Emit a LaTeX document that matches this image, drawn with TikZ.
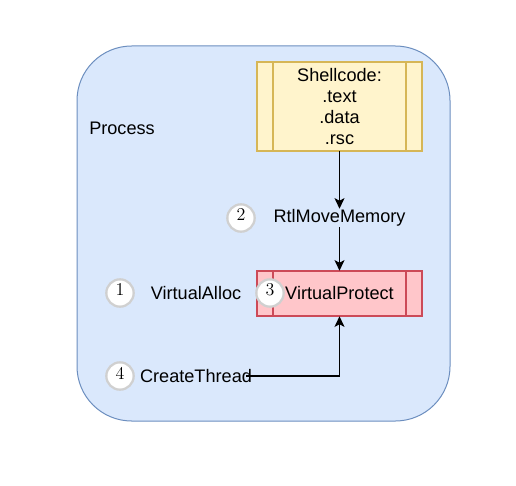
\documentclass[tikz,border=0pt]{standalone}
\usepackage{fontspec}
\setsansfont{Liberation Sans}
\usetikzlibrary{arrows.meta}
\definecolor{procfill}{HTML}{DAE8FC}
\definecolor{procdraw}{HTML}{6C8EBF}
\definecolor{yfill}{HTML}{FFF4CC}
\definecolor{ydraw}{HTML}{D6B656}
\definecolor{rfill}{HTML}{FFC6CA}
\definecolor{rdraw}{HTML}{CC4A58}
\definecolor{cdraw}{HTML}{D0D0D0}
\tikzset{
  lbl/.style={font=\sffamily\fontsize{13.6pt}{15.75pt}\selectfont, inner sep=0pt, align=center},
  numc/.style={circle, draw=cdraw, line width=1.7pt, fill=white, minimum size=20.5pt, inner sep=0pt},
  numt/.style={font=\rmfamily\fontsize{13.5pt}{15pt}\selectfont, inner sep=0pt},
  conn/.style={line width=1pt, -{Stealth[length=8pt,width=7.5pt,inset=2pt]}},
}
\begin{document}
\begin{tikzpicture}[x=0.75pt,y=-0.75pt]
\useasboundingbox (0,0) rectangle (516,485);
% process
\draw[procdraw, fill=procfill, line width=0.75pt, rounded corners=41pt] (77,46) rectangle (450,421);
\node[lbl, anchor=west] (proc) at (89,128) {Process};
% shellcode box
\draw[ydraw, fill=yfill, line width=0.8pt] (257,62) rectangle (422,151);
\draw[ydraw, line width=0.8pt] (273,62) -- (273,151) (406,62) -- (406,151);
\node[lbl, minimum width=123.75pt, minimum height=66.75pt] (shell) at (339.5,106.5) {Shellcode:\\.text\\.data\\.rsc};
% virtual protect box
\draw[rdraw, fill=rfill, line width=0.9pt] (257,271) rectangle (422,316);
\draw[rdraw, line width=0.9pt] (273,271) -- (273,316) (406,271) -- (406,316);
\node[lbl, minimum width=123.75pt, minimum height=33.75pt] (vp) at (339.5,293.5) {};
% labels
\node[lbl, minimum height=13.5pt] (rtl) at (339.5,218) {RtlMoveMemory};
\node[lbl] (va) at (196,293) {VirtualAlloc};
\node[lbl] (ct) at (196,376) {CreateThread};
% connectors
\draw[conn] (shell.south) -- (rtl.north);
\draw[conn] (rtl.south) -- (vp.north);
\coordinate (ctend) at (246,376);
\coordinate (bend) at (339.5,376);
\draw[conn] (ctend) -- (bend) -- (vp.south);
% circles
\node[numc] (c1) at (120,293) {};
\node[numt] (n1) at (120,290) {1};
\node[numc] (c2) at (241,218) {};
\node[numt] (n2) at (241,215) {2};
\node[numc] (c3) at (270,293) {};
\node[numt] (n3) at (270,290) {3};
\node[numc] (c4) at (120,376) {};
\node[numt] (n4) at (120,373) {4};
\node[lbl] (vpt) at (339.5,293.5) {VirtualProtect};
\end{tikzpicture}
\end{document}
